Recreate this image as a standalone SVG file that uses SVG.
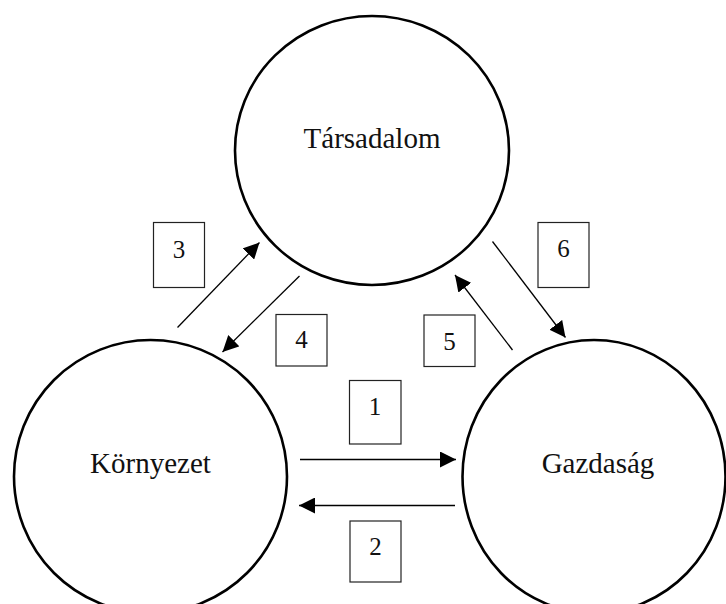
<svg xmlns="http://www.w3.org/2000/svg" width="726" height="604" viewBox="0 0 726 604">
  <style>
    .node { fill: #fff; stroke: #000; stroke-width: 2.6; }
    .name { font-family: "Liberation Serif", "Times New Roman", serif; font-size: 29px; fill: #111; text-anchor: middle; }
    .box { fill: #fff; stroke: #222; stroke-width: 1.2; }
    .num { font-family: "Liberation Serif", "Times New Roman", serif; font-size: 25px; fill: #111; text-anchor: middle; }
    .link { stroke: #000; stroke-width: 1.3; fill: none; marker-end: url(#head); }
  </style>
  <defs>
    <marker id="head" viewBox="0 0 16 16" refX="16" refY="8" markerWidth="16" markerHeight="16" markerUnits="userSpaceOnUse" orient="auto">
      <path d="M0,0 L16,8 L0,16 Z" fill="#000"/>
    </marker>
  </defs>

  <g id="tarsadalom">
    <ellipse class="node" cx="372" cy="150.5" rx="137" ry="134.5"/>
    <text class="name" x="372" y="148">Társadalom</text>
  </g>

  <g id="kornyezet">
    <ellipse class="node" cx="150.5" cy="476.5" rx="136.5" ry="136.5"/>
    <text class="name" x="150.5" y="473">Környezet</text>
  </g>

  <g id="gazdasag">
    <ellipse class="node" cx="594" cy="476.5" rx="131.5" ry="136.5"/>
    <text class="name" x="598" y="473">Gazdaság</text>
  </g>

  <g id="connectors">
    <line class="link" x1="300" y1="459.5" x2="456" y2="459.5"/>
    <line class="link" x1="455" y1="505.5" x2="299" y2="505.5"/>
    <line class="link" x1="177.5" y1="327.5" x2="259.5" y2="242.5"/>
    <line class="link" x1="299.5" y1="276" x2="222.5" y2="352"/>
    <line class="link" x1="512.5" y1="350" x2="455" y2="275"/>
    <line class="link" x1="492.5" y1="241.5" x2="565.5" y2="337.5"/>
  </g>

  <g id="label-1">
    <rect class="box" x="349.5" y="380.5" width="51.5" height="63.5"/>
    <text class="num" x="375" y="415">1</text>
  </g>
  <g id="label-2">
    <rect class="box" x="350" y="521" width="51" height="61"/>
    <text class="num" x="375.5" y="555">2</text>
  </g>
  <g id="label-3">
    <rect class="box" x="153.5" y="222.5" width="51" height="65"/>
    <text class="num" x="179" y="257.5">3</text>
  </g>
  <g id="label-4">
    <rect class="box" x="276" y="314.5" width="51" height="51.5"/>
    <text class="num" x="301.5" y="348">4</text>
  </g>
  <g id="label-5">
    <rect class="box" x="424" y="315" width="51" height="51.5"/>
    <text class="num" x="449.5" y="350">5</text>
  </g>
  <g id="label-6">
    <rect class="box" x="538" y="222.5" width="51" height="65"/>
    <text class="num" x="563.5" y="256.5">6</text>
  </g>
</svg>
